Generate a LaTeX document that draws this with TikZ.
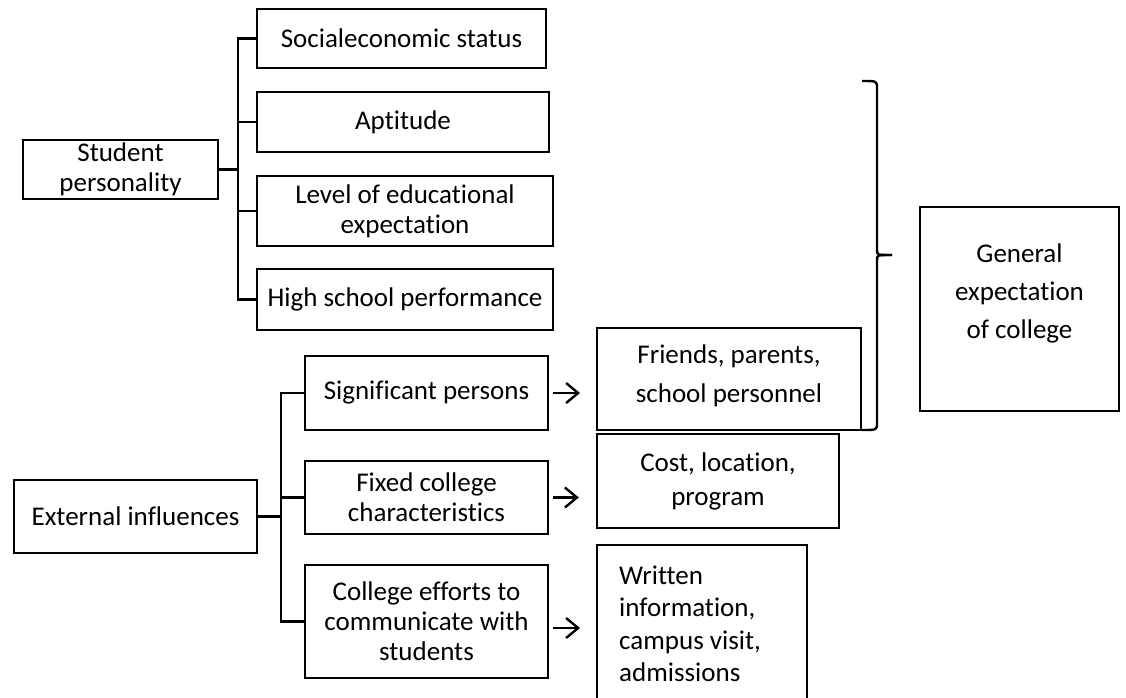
\documentclass[tikz,border=0pt]{standalone}
\usepackage{fontspec}
\setmainfont{Carlito}[Ligatures=NoCommon]
\usetikzlibrary{arrows.meta,calc}
\begin{document}
\begin{tikzpicture}[x=1pt,y={(0,-1pt)},
  box/.style={draw=black,line width=2.4pt,inner sep=0pt,align=center,font=\fontsize{27}{30}\selectfont},
  txt/.style={inner sep=0pt,align=center,font=\fontsize{27}{30}\selectfont},
  conn/.style={line width=2.4pt},
  arr/.style={line width=2.4pt,-{Straight Barb[length=12pt,width=20pt]}}]
\useasboundingbox (0,0) rectangle (1126,697);
% Student personality group
\node[box,minimum width=195pt,minimum height=59pt] (sp) at (120.5,169.5) {Student\\personality};
\node[box,minimum width=289pt,minimum height=59pt] (ses) at (401.5,38.5) {Socialeconomic status};
\node[box,minimum width=292pt,minimum height=60pt] (apt) at (403,122) {Aptitude};
\node[box,minimum width=296pt,minimum height=70pt] (lev) at (405,211) {Level of educational\\expectation};
\node[box,minimum width=296pt,minimum height=61pt] (hsp) at (405,299.5) {High school performance};
\coordinate (t1) at (238,169.5);
\draw[conn] (sp.east) -- (t1);
\draw[conn] (ses.west) -| (t1);
\draw[conn] (apt.west) -- (apt.west -| t1);
\draw[conn] (lev.west) -- (lev.west -| t1);
\draw[conn] (hsp.west) -| (t1);
% External influences group
\node[box,minimum width=243pt,minimum height=73pt] (ext) at (135.5,516.5) {External influences};
\node[box,minimum width=243pt,minimum height=74pt] (sig) at (426.5,393) {Significant persons};
\node[box,minimum width=243pt,minimum height=73pt] (fix) at (426.5,497.5) {Fixed college\\characteristics};
\node[box,minimum width=243pt,minimum height=113pt] (col) at (426.5,621.5) {College efforts to\\communicate with\\students};
\coordinate (t2) at (281,516.5);
\draw[conn] (ext.east) -- (t2);
\draw[conn] (sig.west) -| (t2);
\draw[conn] (fix.west) -- (fix.west -| t2);
\draw[conn] (col.west) -| (t2);
% right boxes
\draw[line width=2.4pt] (597,328) rectangle (861,430);
\node[txt,font=\fontsize{27}{39}\selectfont] (fri) at (729,376) {Friends, parents,\\school personnel};
\coordinate (friw) at (597,379);
\node[box,minimum width=242pt,minimum height=94pt,font=\fontsize{27}{34}\selectfont] (cost) at (718,481) {Cost, location,\\program};
\draw[line width=2.4pt] (597,708) -- (597,545) -- (807,545) -- (807,708);
\node[txt,anchor=west,align=left,font=\fontsize{27}{32.5}\selectfont] (wri) at (619,624) {Written\\information,\\campus visit,\\admissions};
\coordinate (wriw) at (597,628);
% arrows
\draw[arr,shorten <=4pt,shorten >=17pt] (sig.east) -- (sig.east -| friw);
\draw[arr,shorten <=4pt,shorten >=17pt] (fix.east) -- (fix.east -| cost.west);
\draw[arr,shorten <=4pt,shorten >=17pt] (col.east |- wriw) -- (wriw);
% general expectation
\draw[line width=2.4pt] (920,207) rectangle (1119,411);
\node[txt,font=\fontsize{27}{38}\selectfont] (gen) at (1019.5,293) {General\\expectation\\of college};
% brace
\coordinate (btop) at (862,81);
\coordinate (bbot) at (862,430);
\coordinate (btip) at (892,255);
\draw[line width=2.4pt,line join=round] (btop) .. controls (877,81) .. (877,88) -- (877,250) .. controls (877,255) .. (btip);
\draw[line width=2.4pt,line join=round] (btip) .. controls (877,255) .. (877,260) -- (877,423) .. controls (877,430) .. (bbot);
\end{tikzpicture}
\end{document}
